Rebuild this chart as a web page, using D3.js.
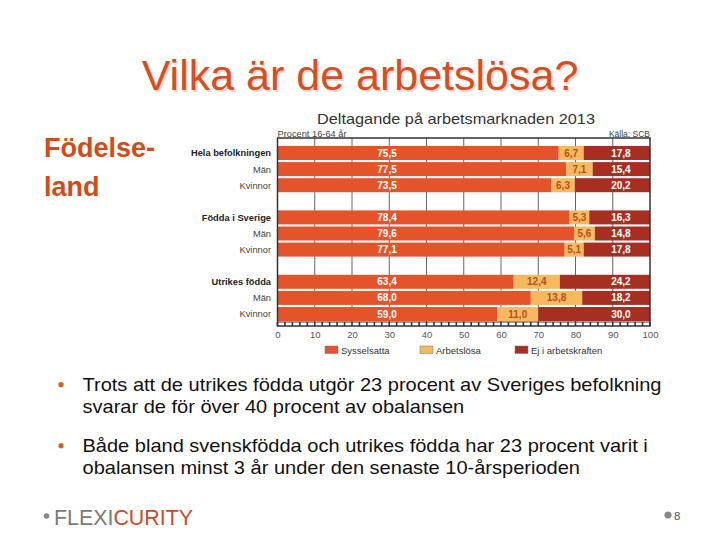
<!DOCTYPE html>
<html>
<head>
<meta charset="utf-8">
<script src="https://cdn.jsdelivr.net/npm/d3@7"></script>
<style>
  html, body { margin: 0; padding: 0; background: #ffffff; }
  svg { display: block; }
  text { font-family: "Liberation Sans", Arial, sans-serif; }
</style>
</head>
<body>
<svg id="slide" width="720" height="540"></svg>
<script>
// ---- Data ----
const categories = ["Hela befolkningen", "Män", "Kvinnor",
                    "Födda i Sverige", "Män", "Kvinnor",
                    "Utrikes födda", "Män", "Kvinnor"];
const isHeader = [true, false, false, true, false, false, true, false, false];
const sysselsatta = [75.5, 77.5, 73.5, 78.4, 79.6, 77.1, 63.4, 68.0, 59.0];
const arbetslosa  = [6.7, 7.1, 6.3, 5.3, 5.6, 5.1, 12.4, 13.8, 11.0];
const ejArbetskraften = [17.8, 15.4, 20.2, 16.3, 14.8, 17.8, 24.2, 18.2, 30.0];
const seriesNames = ["Sysselsatta", "Arbetslösa", "Ej i arbetskraften"];
const xTicks = [0, 10, 20, 30, 40, 50, 60, 70, 80, 90, 100];

const slideTitle = "Vilka är de arbetslösa?";
const sideLabel = ["Födelse-", "land"];
const chartTitle = "Deltagande på arbetsmarknaden 2013";
const unitNote = "Procent 16-64 år";
const sourceNote = "Källa: SCB";
const bullets = [
  ["Trots att de utrikes födda utgör 23 procent av Sveriges befolkning",
   "svarar de för över 40 procent av obalansen"],
  ["Både bland svenskfödda och utrikes födda har 23 procent varit i",
   "obalansen minst 3 år under den senaste 10-årsperioden"]
];
const pageNumber = "8";

// ---- Styles ----
const colors = { sys: "#E5532B", arb: "#F6B95F", ej: "#A72F22" };
const orangeText = "#D94E1B";

const svg = d3.select("#slide");

// ---- Slide title ----
svg.append("text").attr("x", 361.5).attr("y", 91.5)
  .attr("text-anchor", "middle").attr("font-size", 43).attr("fill", "#c9c0bb")
  .attr("opacity", 0.55).text(slideTitle);
svg.append("text").attr("x", 360).attr("y", 90)
  .attr("text-anchor", "middle").attr("font-size", 43).attr("fill", orangeText)
  .text(slideTitle);

// ---- Side label ----
sideLabel.forEach((t, i) => {
  svg.append("text").attr("x", 44).attr("y", 157 + i * 39)
    .attr("font-size", 27).attr("font-weight", "bold").attr("fill", "#D24B1A").text(t);
});

// ---- Chart ----
const x = d3.scaleLinear().domain([0, 100]).range([277.5, 650]);
const slotIndex = categories.map((c, i) => i + Math.floor(i / 3));
const y = d3.scaleBand().domain(d3.range(11)).range([146, 321]).paddingInner(0.13).paddingOuter(0);
const plotTop = 138, plotBottom = 322, axisBottom = 326;

const chart = svg.append("g");

// title & notes
chart.append("text").attr("x", 456).attr("y", 123.5).attr("text-anchor", "middle")
  .attr("font-size", 15).attr("fill", "#333").attr("textLength", 278)
  .attr("lengthAdjust", "spacingAndGlyphs").text(chartTitle);
chart.append("text").attr("x", 277.5).attr("y", 136.5).attr("font-size", 8.5)
  .attr("fill", "#444").attr("textLength", 69).attr("lengthAdjust", "spacingAndGlyphs").text(unitNote);
chart.append("text").attr("x", 650).attr("y", 136.5).attr("text-anchor", "end").attr("font-size", 8.5)
  .attr("fill", "#444").text(sourceNote);

// gridlines
chart.append("g").selectAll("line").data(xTicks.slice(1, -1)).join("line")
  .attr("x1", d => x(d)).attr("x2", d => x(d))
  .attr("y1", plotTop).attr("y2", plotBottom)
  .attr("stroke", "#666").attr("stroke-width", 1);

// stacked bars
const rows = categories.map((c, i) => ({
  i, c, s: sysselsatta[i], a: arbetslosa[i], e: ejArbetskraften[i], slot: slotIndex[i]
}));
const stackData = rows.map(r => ({ slot: r.slot, Sysselsatta: r.s, "Arbetslösa": r.a, "Ej i arbetskraften": r.e }));
const stack = d3.stack().keys(seriesNames)(stackData);
const fills = [colors.sys, colors.arb, colors.ej];

chart.append("g").selectAll("g").data(stack).join("g")
  .attr("fill", (d, k) => fills[k])
  .selectAll("rect").data(d => d).join("rect")
  .attr("x", d => x(d[0]))
  .attr("width", d => x(d[1]) - x(d[0]))
  .attr("y", d => y(d.data.slot))
  .attr("height", y.bandwidth());

const fmt = v => d3.format(".1f")(v).replace(".", ",");

// value labels
const lbl = chart.append("g").attr("font-size", 10).attr("font-weight", "bold").attr("text-anchor", "middle");
rows.forEach(r => {
  const cy = y(r.slot) + y.bandwidth() / 2 + 3.6;
  lbl.append("text").attr("x", x(29.4)).attr("y", cy).attr("fill", "#fff").text(fmt(r.s));
  lbl.append("text").attr("x", x(r.s + r.a / 2)).attr("y", cy).attr("fill", "#B4511C").text(fmt(r.a));
  lbl.append("text").attr("x", x(92.2)).attr("y", cy).attr("fill", "#fff").text(fmt(r.e));
});

// frame
chart.append("rect").attr("x", x(0)).attr("y", plotTop).attr("width", x(100) - x(0))
  .attr("height", axisBottom - plotTop).attr("fill", "none").attr("stroke", "#333").attr("stroke-width", 1.5);
chart.append("line").attr("x1", x(0)).attr("x2", x(100)).attr("y1", plotBottom).attr("y2", plotBottom)
  .attr("stroke", "#333").attr("stroke-width", 1.2);
chart.append("g").selectAll("line").data(d3.range(0, 101, 2)).join("line")
  .attr("x1", d => x(d)).attr("x2", d => x(d)).attr("y1", plotBottom).attr("y2", axisBottom)
  .attr("stroke", "#333").attr("stroke-width", 1.6);

// axis tick labels
const axis = d3.axisBottom(x).tickValues(xTicks).tickSize(0).tickPadding(0).tickFormat(d3.format("d"));
const ax = chart.append("g").attr("transform", `translate(0,${331})`).call(axis);
ax.select(".domain").remove();
ax.selectAll("text").attr("font-size", 9.5).attr("fill", "#555")
  .attr("font-family", "'Liberation Sans', Arial, sans-serif");

// category labels
chart.append("g").selectAll("text").data(rows).join("text")
  .attr("x", 271).attr("y", r => y(r.slot) + y.bandwidth() / 2 + 3.4)
  .attr("text-anchor", "end").attr("font-size", 9.3)
  .attr("font-weight", r => isHeader[r.i] ? "bold" : "normal")
  .attr("fill", r => isHeader[r.i] ? "#222" : "#444")
  .text(r => r.c);

// legend
const legendX = [325, 420, 515];
const lg = chart.append("g");
seriesNames.forEach((n, k) => {
  lg.append("rect").attr("x", legendX[k]).attr("y", 346).attr("width", 13).attr("height", 7.5)
    .attr("fill", fills[k]).attr("stroke", "#777").attr("stroke-width", 0.5);
  lg.append("text").attr("x", legendX[k] + 16).attr("y", 354).attr("font-size", 9.5)
    .attr("fill", "#333").text(n);
});

// ---- Bullets ----
const bulletTop = [390.7, 451.7];
const lineGap = 22.6;
const bg = svg.append("g");
let stretch = null;
bullets.forEach((lines, b) => {
  bg.append("circle").attr("cx", 61).attr("cy", bulletTop[b] - 6).attr("r", 2.6).attr("fill", "#D9611F");
  lines.forEach((t, j) => {
    const el = bg.append("text").attr("x", 82.5).attr("y", bulletTop[b] + j * lineGap)
      .attr("font-size", 18.5).attr("fill", "#111").text(t);
    const w = el.node().getComputedTextLength();
    if (stretch === null) stretch = 579 / w;
    el.attr("textLength", w * stretch).attr("lengthAdjust", "spacingAndGlyphs");
  });
});

// ---- Footer ----
svg.append("circle").attr("cx", 46.5).attr("cy", 516).attr("r", 2.8).attr("fill", "#888");
const logo = svg.append("text").attr("x", 54).attr("y", 525)
  .attr("font-family", "'Open Sans', 'Liberation Sans', sans-serif").attr("font-weight", 300)
  .attr("font-size", 22).attr("textLength", 139).attr("lengthAdjust", "spacingAndGlyphs");
logo.append("tspan").attr("fill", "#7a7a7a").text("FLEXI");
logo.append("tspan").attr("fill", "#CC4A2C").text("CURITY");

svg.append("circle").attr("cx", 668).attr("cy", 515).attr("r", 3.6).attr("fill", "#888");
svg.append("text").attr("x", 674).attr("y", 519.5).attr("font-size", 11.5)
  .attr("font-family", "'Open Sans', 'Liberation Sans', sans-serif").attr("fill", "#555").text(pageNumber);
</script>
</body>
</html>
